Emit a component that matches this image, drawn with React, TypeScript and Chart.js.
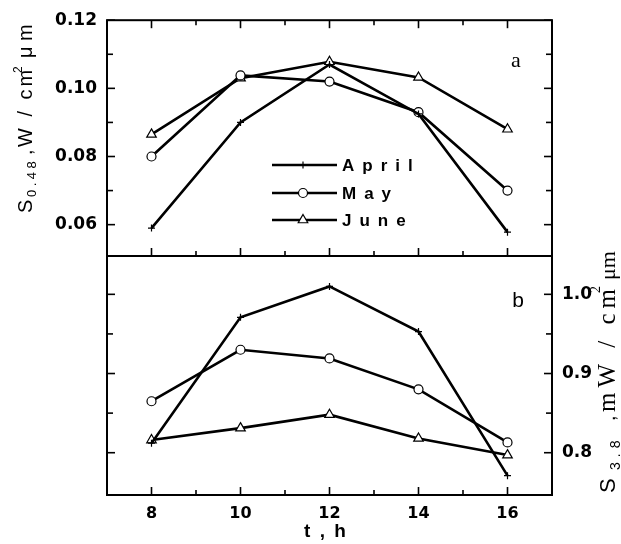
import React, { useEffect, useRef } from 'react';
import { Chart, registerables } from 'chart.js';

Chart.register(...registerables);

// ---- data ----
const hours = [8, 10, 12, 14, 16];
const seriesNames = ['April', 'May', 'June'];

const aprilTop = [0.059, 0.090, 0.107, 0.0925, 0.0578];
const mayTop = [0.080, 0.1038, 0.102, 0.093, 0.070];
const juneTop = [0.0865, 0.103, 0.1078, 0.1032, 0.088];

const aprilBottom = [0.812, 0.971, 1.010, 0.953, 0.771];
const mayBottom = [0.865, 0.930, 0.919, 0.880, 0.813];
const juneBottom = [0.816, 0.831, 0.848, 0.818, 0.797];

const xMajor = [8, 10, 12, 14, 16];
const xMinor = [9, 11, 13, 15];
const topYMajor = [0.06, 0.08, 0.10, 0.12];
const topYMinor = [0.07, 0.09, 0.11];
const bottomYMajor = [0.8, 0.9, 1.0];
const bottomYMinor = [0.85, 0.95];

const pointStyles = ['cross', 'circle', 'triangle'];
const pointRadii = [3.5, 4.5, 5.5];

type Seg = { t: string; font: string; dx: number; dy?: number; ls?: number };

function drawRotatedSegs(ctx: CanvasRenderingContext2D, ox: number, oy: number, segs: Seg[]) {
  ctx.save();
  ctx.translate(ox, oy);
  ctx.rotate(-Math.PI / 2);
  ctx.fillStyle = '#000';
  ctx.textAlign = 'left';
  ctx.textBaseline = 'alphabetic';
  for (const s of segs) {
    ctx.font = s.font;
    (ctx as any).letterSpacing = (s.ls || 0) + 'px';
    ctx.fillText(s.t, s.dx, s.dy || 0);
  }
  (ctx as any).letterSpacing = '0px';
  ctx.restore();
}

function drawMarker(ctx: CanvasRenderingContext2D, style: string, x: number, y: number, r: number) {
  ctx.save();
  ctx.strokeStyle = '#000';
  ctx.fillStyle = '#fff';
  ctx.lineWidth = 1.2;
  ctx.beginPath();
  if (style === 'cross') {
    ctx.moveTo(x - r, y);
    ctx.lineTo(x + r, y);
    ctx.moveTo(x, y - r);
    ctx.lineTo(x, y + r);
    ctx.stroke();
  } else if (style === 'circle') {
    ctx.arc(x, y, r, 0, Math.PI * 2);
    ctx.fill();
    ctx.stroke();
  } else {
    ctx.moveTo(x, y - r);
    ctx.lineTo(x + 0.866 * r, y + 0.5 * r);
    ctx.lineTo(x - 0.866 * r, y + 0.5 * r);
    ctx.closePath();
    ctx.fill();
    ctx.stroke();
  }
  ctx.restore();
}

function framePlugin(opts: {
  xEdges: string[];
  yEdges: string[];
  yMajor: number[];
  yMinor: number[];
}) {
  return {
    id: 'frameTicks',
    afterDraw(chart: any) {
      const { ctx, chartArea: a, scales } = chart;
      const xs = scales.x;
      const ys = scales.y;
      ctx.save();
      ctx.strokeStyle = '#000';
      ctx.lineWidth = 2;
      ctx.strokeRect(a.left, a.top, a.right - a.left, a.bottom - a.top);
      ctx.lineWidth = 1.6;
      const line = (x1: number, y1: number, x2: number, y2: number) => {
        ctx.beginPath();
        ctx.moveTo(x1, y1);
        ctx.lineTo(x2, y2);
        ctx.stroke();
      };
      const xt = [...xMajor.map((v) => [v, 8]), ...xMinor.map((v) => [v, 5])];
      for (const [v, len] of xt) {
        const px = xs.getPixelForValue(v);
        if (opts.xEdges.includes('top')) line(px, a.top, px, a.top + len);
        if (opts.xEdges.includes('bottom')) line(px, a.bottom, px, a.bottom - len);
      }
      const yt = [...opts.yMajor.map((v) => [v, 8]), ...opts.yMinor.map((v) => [v, 6])];
      for (const [v, len] of yt) {
        const py = ys.getPixelForValue(v);
        if (opts.yEdges.includes('left')) line(a.left, py, a.left + len, py);
        if (opts.yEdges.includes('right')) line(a.right, py, a.right - len, py);
      }
      ctx.restore();
    },
  };
}

const topTextPlugin = {
  id: 'topText',
  afterDraw(chart: any) {
    const ctx: CanvasRenderingContext2D = chart.ctx;
    // legend
    const rows = [165, 193, 220];
    seriesNames.forEach((name, i) => {
      const y = rows[i];
      ctx.save();
      ctx.strokeStyle = '#000';
      ctx.lineWidth = 2.5;
      ctx.beginPath();
      ctx.moveTo(272, y);
      ctx.lineTo(337, y);
      ctx.stroke();
      ctx.restore();
      drawMarker(ctx, pointStyles[i], 303, y, pointRadii[i]);
      ctx.save();
      ctx.fillStyle = '#000';
      ctx.font = 'bold 17px "Liberation Sans"';
      (ctx as any).letterSpacing = '8px';
      ctx.textAlign = 'left';
      ctx.textBaseline = 'middle';
      ctx.fillText(name, 342, y + 1);
      (ctx as any).letterSpacing = '0px';
      ctx.restore();
    });
    // panel label
    ctx.save();
    ctx.fillStyle = '#000';
    ctx.font = '22px "Liberation Serif"';
    ctx.textAlign = 'center';
    ctx.textBaseline = 'middle';
    ctx.fillText('a', 516, 61);
    ctx.restore();
    // left axis title
    const sans = '"Liberation Sans"';
    drawRotatedSegs(ctx, 32, 213, [
      { t: 'S', font: `20px ${sans}`, dx: 0 },
      { t: '0.48', font: `13px ${sans}`, dx: 16, dy: 4, ls: 3.5 },
      { t: ',', font: `20px ${sans}`, dx: 58 },
      { t: 'W / cm', font: `20px ${sans}`, dx: 66, ls: 3 },
      { t: '2', font: `12px ${sans}`, dx: 140, dy: -10 },
      { t: 'μ', font: `20px ${sans}`, dx: 155 },
      { t: 'm', font: `20px ${sans}`, dx: 172 },
    ]);
  },
};

const bottomTextPlugin = {
  id: 'bottomText',
  afterDraw(chart: any) {
    const ctx: CanvasRenderingContext2D = chart.ctx;
    ctx.save();
    ctx.fillStyle = '#000';
    ctx.font = '21px "Liberation Sans"';
    ctx.textAlign = 'center';
    ctx.textBaseline = 'middle';
    ctx.fillText('b', 518, 301);
    ctx.font = 'bold 19px "Liberation Sans"';
    (ctx as any).letterSpacing = '2px';
    ctx.fillText('t , h', 326, 532);
    (ctx as any).letterSpacing = '0px';
    ctx.restore();
    const sans = '"Liberation Sans"';
    const serif = '"Liberation Serif"';
    drawRotatedSegs(ctx, 615, 493, [
      { t: 'S', font: `22px ${sans}`, dx: 0 },
      { t: '3.8', font: `14px ${sans}`, dx: 23, dy: 5, ls: 5 },
      { t: ',', font: `20px ${sans}`, dx: 72 },
      { t: 'mW / cm', font: `25px ${serif}`, dx: 81, ls: 5 },
      { t: '2', font: `14px ${serif}`, dx: 200, dy: -15 },
      { t: 'μm', font: `22px ${serif}`, dx: 213 },
    ]);
  },
};

function makeDatasets(vals: number[][]) {
  return seriesNames.map((name, i) => ({
    label: name,
    data: hours.map((h, j) => ({ x: h, y: vals[i][j] })),
    borderColor: '#000',
    backgroundColor: '#fff',
    borderWidth: 2.6,
    tension: 0,
    fill: false,
    pointStyle: pointStyles[i],
    pointRadius: pointRadii[i],
    pointBackgroundColor: '#fff',
    pointBorderColor: '#000',
    pointBorderWidth: 1.2,
  }));
}

const tickFont = { family: 'DejaVu Sans', weight: 'bold' as const, size: 17 };

export default function App() {
  const topRef = useRef<HTMLCanvasElement>(null);
  const botRef = useRef<HTMLCanvasElement>(null);

  useEffect(() => {
    const topChart = new Chart(topRef.current!, {
      type: 'line',
      data: { datasets: makeDatasets([aprilTop, mayTop, juneTop]) as any },
      options: {
        responsive: false,
        animation: false,
        devicePixelRatio: 1,
        layout: { padding: { left: 0, top: 16, right: 69, bottom: 288 } },
        plugins: { legend: { display: false }, tooltip: { enabled: false } },
        scales: {
          x: { type: 'linear', min: 7, max: 17, display: false },
          y: {
            type: 'linear',
            min: 0.0508,
            max: 0.12,
            position: 'left',
            afterFit: (s: any) => {
              s.width = 107;
            },
            afterBuildTicks: (s: any) => {
              s.ticks = topYMajor.map((v) => ({ value: v }));
            },
            grid: { display: false, drawTicks: false },
            border: { display: false },
            ticks: {
              padding: 10,
              color: '#000',
              font: tickFont,
              callback: (v: any) => Number(v).toFixed(2),
            },
          },
        },
      } as any,
      plugins: [
        framePlugin({ xEdges: ['top', 'bottom'], yEdges: ['left', 'right'], yMajor: topYMajor, yMinor: topYMinor }),
        topTextPlugin,
      ],
    });

    const botChart = new Chart(botRef.current!, {
      type: 'line',
      data: { datasets: makeDatasets([aprilBottom, mayBottom, juneBottom]) as any },
      options: {
        responsive: false,
        animation: false,
        devicePixelRatio: 1,
        layout: { padding: { left: 107, top: 256, right: 0, bottom: 0 } },
        plugins: { legend: { display: false }, tooltip: { enabled: false } },
        scales: {
          x: {
            type: 'linear',
            min: 7,
            max: 17,
            position: 'bottom',
            afterFit: (s: any) => {
              s.height = 49;
            },
            afterBuildTicks: (s: any) => {
              s.ticks = xMajor.map((v) => ({ value: v }));
            },
            grid: { display: false, drawTicks: false },
            border: { display: false },
            ticks: {
              padding: 9,
              color: '#000',
              font: { ...tickFont, size: 16 },
              callback: (v: any) => String(v),
            },
          },
          y: {
            type: 'linear',
            min: 0.7466,
            max: 1.0484,
            position: 'right',
            afterFit: (s: any) => {
              s.width = 69;
            },
            afterBuildTicks: (s: any) => {
              s.ticks = bottomYMajor.map((v) => ({ value: v }));
            },
            grid: { display: false, drawTicks: false },
            border: { display: false },
            ticks: {
              padding: 10,
              color: '#000',
              font: tickFont,
              callback: (v: any) => Number(v).toFixed(1),
            },
          },
        },
      } as any,
      plugins: [
        framePlugin({ xEdges: ['bottom'], yEdges: ['left', 'right'], yMajor: bottomYMajor, yMinor: bottomYMinor }),
        bottomTextPlugin,
      ],
    });

    return () => {
      topChart.destroy();
      botChart.destroy();
    };
  }, []);

  const canvasStyle: React.CSSProperties = { position: 'absolute', left: 0, top: 0, width: 621, height: 544 };
  return (
    <div style={{ position: 'fixed', left: 0, top: 0, width: 621, height: 544, background: '#fff' }}>
      <canvas ref={topRef} width={621} height={544} style={canvasStyle} />
      <canvas ref={botRef} width={621} height={544} style={canvasStyle} />
    </div>
  );
}
